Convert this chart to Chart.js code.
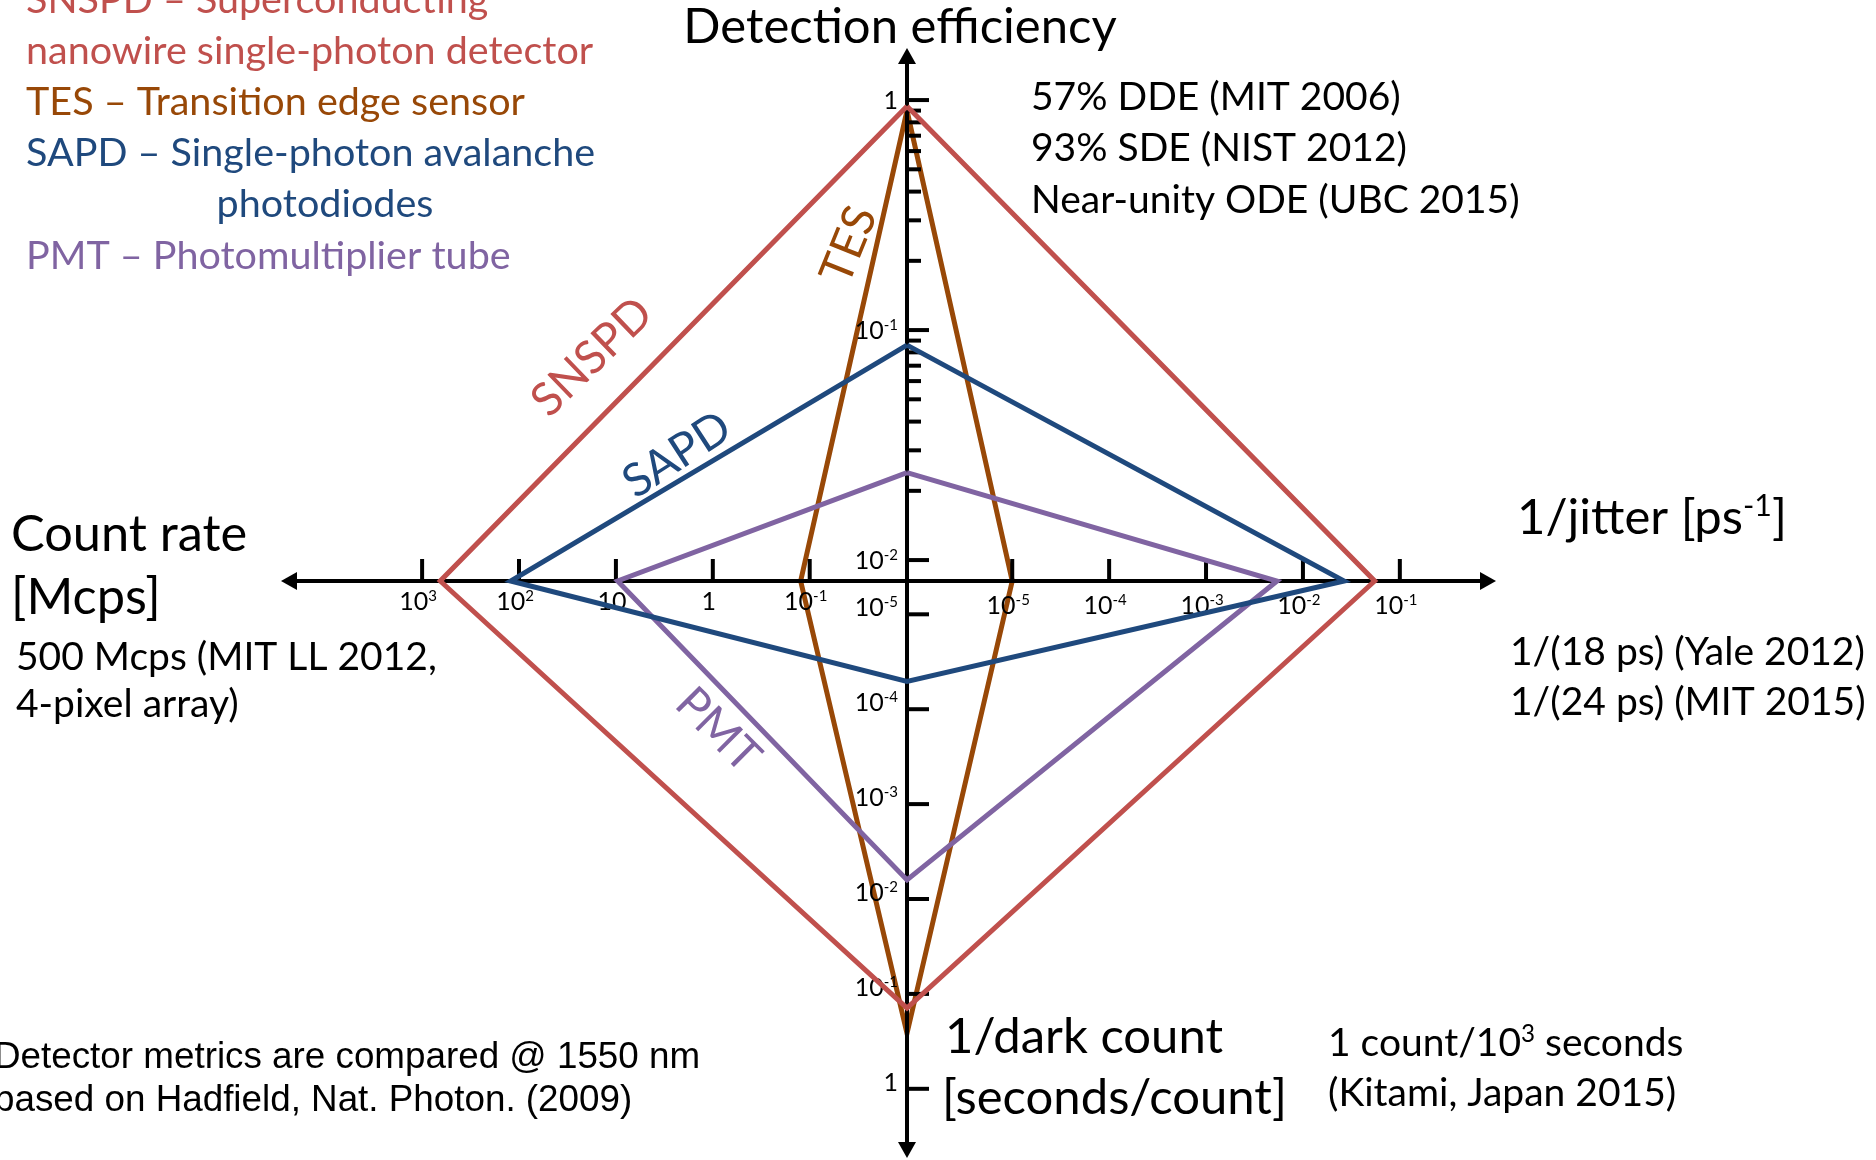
<!DOCTYPE html>
<html>
<head>
<meta charset="utf-8">
<title>Single-photon detector comparison</title>
<script src="https://cdn.jsdelivr.net/npm/chart.js@4.4.1/dist/chart.umd.min.js"></script>
<style>
  html, body { margin: 0; padding: 0; background: #ffffff; overflow: hidden; }
  canvas { display: block; }
</style>
</head>
<body>
<canvas id="chart" width="1876" height="1160"></canvas>
<script>
// ---- data ---------------------------------------------------------------
const detectors   = ['SNSPD', 'TES', 'SAPD', 'PMT'];
const efficiency  = [0.94, 0.90, 0.086, 0.024];      // detection efficiency (up)
const invJitter   = [0.055, 1e-5, 0.0266, 0.0054];   // 1/jitter [ps^-1] (right)
const invDark     = [0.141, 0.26, 5.1e-5, 0.0063];   // 1/dark count (down)
const countRate   = [650, 0.124, 122, 9.6];          // count rate [Mcps] (left)

const effTicks    = [1, 0.1, 0.01];
const jitterTicks = [1e-5, 1e-4, 1e-3, 1e-2, 1e-1];
const darkTicks   = [1e-5, 1e-4, 1e-3, 1e-2, 1e-1, 1];
const rateTicks   = [1e3, 1e2, 10, 1, 0.1];

const seriesColors = ['#C0504D', '#984807', '#1F497D', '#8064A2'];

// ---- layout of the four logarithmic half-axes ---------------------------
const W = 1876, H = 1160;
const CX = 907, CY = 581;            // where the axes cross

// each half-axis: direction, log10 value sitting at the crossing,
// pixels per decade, distance to the arrow tip, tick-label placement
const AXES = {
  eff:    { dir: [0, 1],  logAtCenter: -2.091, pxPerDecade: 230.0, length: 533, ticks: effTicks,    minor: true,  vertical: true,  labelDy: 9 },
  jitter: { dir: [1, 0],  logAtCenter: -6.086, pxPerDecade: 96.9,  length: 589, ticks: jitterTicks, minor: false, vertical: false, labelDy: 33 },
  dark:   { dir: [0, -1], logAtCenter: -5.351, pxPerDecade: 94.9,  length: 577, ticks: darkTicks,   minor: false, vertical: true,  labelDy: 2 },
  rate:   { dir: [-1, 0], logAtCenter: -2.004, pxPerDecade: 96.9,  length: 626, ticks: rateTicks,   minor: false, vertical: false, labelDy: 29 }
};

function axisPoint(ax, v) {
  const r = (Math.log10(v) - ax.logAtCenter) * ax.pxPerDecade;
  return { x: ax.dir[0] * r, y: ax.dir[1] * r };
}

function polygonFor(i) {
  const pts = [
    axisPoint(AXES.eff, efficiency[i]),
    axisPoint(AXES.jitter, invJitter[i]),
    axisPoint(AXES.dark, invDark[i]),
    axisPoint(AXES.rate, countRate[i])
  ];
  pts.push(pts[0]);
  return pts;
}

// ---- text helpers -------------------------------------------------------
const GILL = 'Lato, "Open Sans", sans-serif';

// runs: [{t: 'text', sup: bool}]
function drawRuns(ctx, runs, x, y, size, color, align, family, supScale) {
  family = family || GILL;
  const supSize = size * (supScale || 0.62);
  let total = 0;
  const widths = runs.map(r => {
    ctx.font = (r.sup ? supSize : size) + 'px ' + family;
    const w = ctx.measureText(r.t).width;
    total += w;
    return w;
  });
  let cx = x;
  if (align === 'center') cx = x - total / 2;
  else if (align === 'right') cx = x - total;
  ctx.fillStyle = color;
  ctx.textAlign = 'left';
  ctx.textBaseline = 'alphabetic';
  runs.forEach((r, k) => {
    ctx.font = (r.sup ? supSize : size) + 'px ' + family;
    ctx.fillText(r.t, cx, r.sup ? y - size * 0.36 : y);
    cx += widths[k];
  });
}

function text(ctx, s, x, y, size, color, align, family) {
  drawRuns(ctx, [{ t: s }], x, y, size, color, align || 'left', family);
}

function powerRuns(v) {
  const e = Math.round(Math.log10(v));
  if (e === 0) return [{ t: '1' }];
  if (e === 1) return [{ t: '10' }];
  return [{ t: '10' }, { t: String(e), sup: true }];
}

// ---- axes, ticks and labels drawn through the chart scales --------------
function drawAxes(chart) {
  const { ctx } = chart;
  const sx = chart.scales.x, sy = chart.scales.y;
  const toPx = p => ({ x: sx.getPixelForValue(p.x), y: sy.getPixelForValue(p.y) });
  const o = toPx({ x: 0, y: 0 });

  ctx.save();
  ctx.strokeStyle = '#000';
  ctx.fillStyle = '#000';
  ctx.lineCap = 'butt';

  Object.values(AXES).forEach(ax => {
    const tip = toPx({ x: ax.dir[0] * ax.length, y: ax.dir[1] * ax.length });
    const dx = tip.x - o.x, dy = tip.y - o.y;
    const len = Math.hypot(dx, dy);
    const ux = dx / len, uy = dy / len;
    const head = 16, half = 9;
    // shaft
    ctx.lineWidth = 4;
    ctx.beginPath();
    ctx.moveTo(o.x - ux * 2, o.y - uy * 2);
    ctx.lineTo(tip.x - ux * head, tip.y - uy * head);
    ctx.stroke();
    // arrow head
    ctx.beginPath();
    ctx.moveTo(tip.x, tip.y);
    ctx.lineTo(tip.x - ux * head - uy * half, tip.y - uy * head + ux * half);
    ctx.lineTo(tip.x - ux * head + uy * half, tip.y - uy * head - ux * half);
    ctx.closePath();
    ctx.fill();

    // ticks: right of vertical axes, above horizontal axes
    const tx = ax.vertical ? 1 : 0, ty = ax.vertical ? 0 : -1;
    const drawTick = (v, size) => {
      const p = toPx(axisPoint(ax, v));
      ctx.lineWidth = 4;
      ctx.beginPath();
      ctx.moveTo(p.x, p.y);
      ctx.lineTo(p.x + tx * size, p.y + ty * size);
      ctx.stroke();
      return p;
    };
    ax.ticks.forEach(v => {
      const p = drawTick(v, 22);
      const runs = powerRuns(v);
      if (ax.vertical) {
        drawRuns(ctx, runs, p.x - 9, p.y + ax.labelDy, 25, '#000', 'right', null, 0.6);
      } else {
        drawRuns(ctx, runs, p.x - 4, p.y + ax.labelDy, 25, '#000', 'center', null, 0.6);
      }
    });
    if (ax.minor) {
      for (let k = 1; k < ax.ticks.length; k++) {
        const base = ax.ticks[k];
        for (let m = 2; m <= 9; m++) drawTick(base * m, 14);
      }
    }
  });
  ctx.restore();
}

const TES_INDEX = detectors.indexOf('TES');

const diamondAxes = {
  id: 'diamondAxes',
  // the TES outline sits underneath the axes, the other outlines above them
  afterDatasetDraw(chart, args) {
    if (args.index === TES_INDEX) drawAxes(chart);
  },

  afterDraw(chart) {
    const { ctx } = chart;
    ctx.save();
    const [red, brown, blue, purple] = seriesColors;

    // legend block
    const L = 39.5;
    text(ctx, 'SNSPD \u2013 Superconducting', 26, 13, L, red);
    text(ctx, 'nanowire single-photon detector', 26, 64, L, red);
    text(ctx, 'TES \u2013 Transition edge sensor', 26, 115, L, brown);
    text(ctx, 'SAPD \u2013 Single-photon avalanche', 26, 166, L, blue);
    text(ctx, 'photodiodes', 325, 217, L, blue, 'center');
    text(ctx, 'PMT \u2013 Photomultiplier tube', 26, 269, L, purple);

    // axis titles
    const T = 49;
    text(ctx, 'Detection efficiency', 900, 43, T, '#000', 'center');
    text(ctx, 'Count rate', 11, 551, 50.5, '#000');
    text(ctx, '[Mcps]', 11, 614, 50.5, '#000');
    drawRuns(ctx, [{ t: '1/jitter [ps' }, { t: '-1', sup: true }, { t: ']' }], 1517, 534, T, '#000', 'left');
    text(ctx, '1/dark count', 945, 1053, T, '#000');
    text(ctx, '[seconds/count]', 942, 1114, T, '#000');

    // record values
    const A = 39;
    text(ctx, '57% DDE (MIT 2006)', 1031, 110, A, '#000');
    text(ctx, '93% SDE (NIST 2012)', 1031, 161, A, '#000');
    text(ctx, 'Near-unity ODE (UBC 2015)', 1031, 213, A, '#000');
    text(ctx, '500 Mcps (MIT LL 2012,', 16, 670, A, '#000');
    text(ctx, '4-pixel array)', 16, 717, A, '#000');
    text(ctx, '1/(18 ps) (Yale 2012)', 1510, 665, A, '#000');
    text(ctx, '1/(24 ps) (MIT 2015)', 1510, 715, A, '#000');
    drawRuns(ctx, [{ t: '1 count/10' }, { t: '3', sup: true }, { t: ' seconds' }], 1328, 1056, A, '#000', 'left');
    text(ctx, '(Kitami, Japan 2015)', 1328, 1106, A, '#000');

    // footnote
    const arial = '"Liberation Sans", Arial, sans-serif';
    text(ctx, 'Detector metrics are compared @ 1550 nm', -6, 1068, 36.8, '#000', 'left', arial);
    text(ctx, 'based on Hadfield, Nat. Photon. (2009)', -6, 1111, 36.8, '#000', 'left', arial);

    // series names along their outlines
    const tag = (s, x, y, deg, color) => {
      ctx.save();
      ctx.translate(x, y);
      ctx.rotate(deg * Math.PI / 180);
      ctx.font = '46px ' + GILL;
      ctx.fillStyle = color;
      ctx.textAlign = 'center';
      ctx.textBaseline = 'middle';
      ctx.fillText(s, 0, 0);
      ctx.restore();
    };
    tag(detectors[0], 592, 357, -44, red);
    tag(detectors[1], 849, 245, -68, brown);
    tag(detectors[2], 677, 455, -33, blue);
    tag(detectors[3], 718, 730, 45, purple);
    ctx.restore();
  }
};

// ---- chart --------------------------------------------------------------
// drawing order: TES first, then PMT, SAPD, and SNSPD on top
const drawOrder = { SNSPD: 1, SAPD: 2, PMT: 3, TES: 4 };

const datasets = detectors.map((name, i) => ({
  label: name,
  data: polygonFor(i),
  showLine: true,
  borderColor: seriesColors[i],
  backgroundColor: seriesColors[i],
  borderWidth: 5,
  borderJoinStyle: 'miter',
  pointRadius: 0,
  pointHoverRadius: 0,
  fill: false,
  tension: 0,
  order: drawOrder[name]
}));

new Chart(document.getElementById('chart'), {
  type: 'scatter',
  data: { datasets },
  options: {
    responsive: false,
    animation: false,
    devicePixelRatio: 1,
    events: [],
    layout: { padding: 0 },
    plugins: { legend: { display: false }, tooltip: { enabled: false } },
    scales: {
      x: { type: 'linear', display: false, min: -CX, max: W - CX },
      y: { type: 'linear', display: false, min: -(H - CY), max: CY }
    }
  },
  plugins: [diamondAxes]
});
</script>
</body>
</html>
